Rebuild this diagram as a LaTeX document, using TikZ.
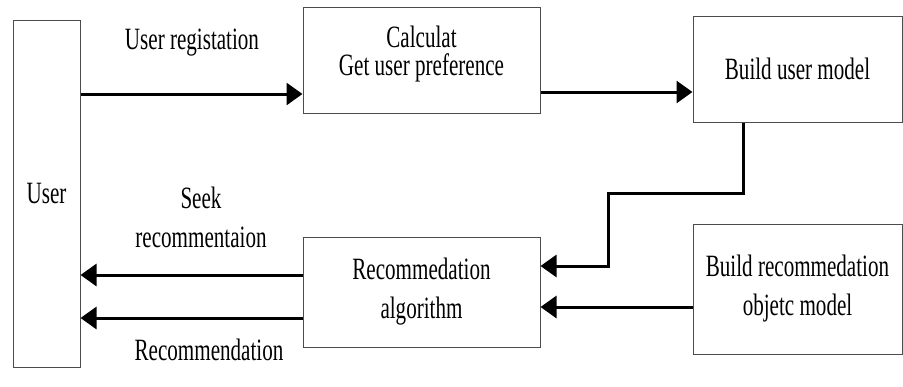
\documentclass[tikz,border=0pt]{standalone}
\usepackage{fontspec}
\setmainfont{Liberation Serif}[FakeStretch=0.68]
\usetikzlibrary{arrows.meta}
\begin{document}
\begin{tikzpicture}[x=1pt,y=-1pt,
  box/.style={draw=black!70,line width=1pt,fill=white,inner sep=0pt,align=center},
  txt/.style={inner sep=0pt,align=center},
  arr/.style={line width=3pt,-{Triangle[length=16pt,width=22pt]}}]
\useasboundingbox (0,0) rectangle (903,386);
\tikzset{every node/.append style={font=\fontsize{31}{39}\selectfont}}
% boxes
\node[box,minimum width=67pt,minimum height=347pt] (user) at (46.5,193.5) {User};
\node[box,minimum width=237pt,minimum height=106pt] (calc) at (421.5,60) {};
\node[txt] (calcT) at (421.5,54) {Calculat\\[-11pt]Get user preference};
\node[box,minimum width=209pt,minimum height=106pt] (bum) at (797.5,69) {Build user model};
\node[box,minimum width=237pt,minimum height=110pt] (rec) at (421.5,292) {Recommedation\\algorithm};
\node[box,minimum width=209pt,minimum height=130pt] (brec) at (797.5,289) {Build recommedation\\objetc model};
% labels
\node[txt] (lreg) at (192,43) {User registation};
\node[txt] (lseek) at (201,217) {Seek\\recommentaion};
\node[txt] (lrec) at (209,350) {Recommendation};
% connectors
\draw[arr] (user.east |- 0,94) -- (calc.west |- 0,94);
\draw[arr] (calc.east |- 0,92) -- (bum.west |- 0,92);
\draw[arr] (bum.south -| 743,0) -- (743,193) -- (608,193) -- (608,266) -- (rec.east |- 0,266);
\draw[arr] (brec.west |- 0,307) -- (rec.east |- 0,307);
\draw[arr] (rec.west |- 0,275) -- (user.east |- 0,275);
\draw[arr] (rec.west |- 0,318) -- (user.east |- 0,318);
\end{tikzpicture}
\end{document}
